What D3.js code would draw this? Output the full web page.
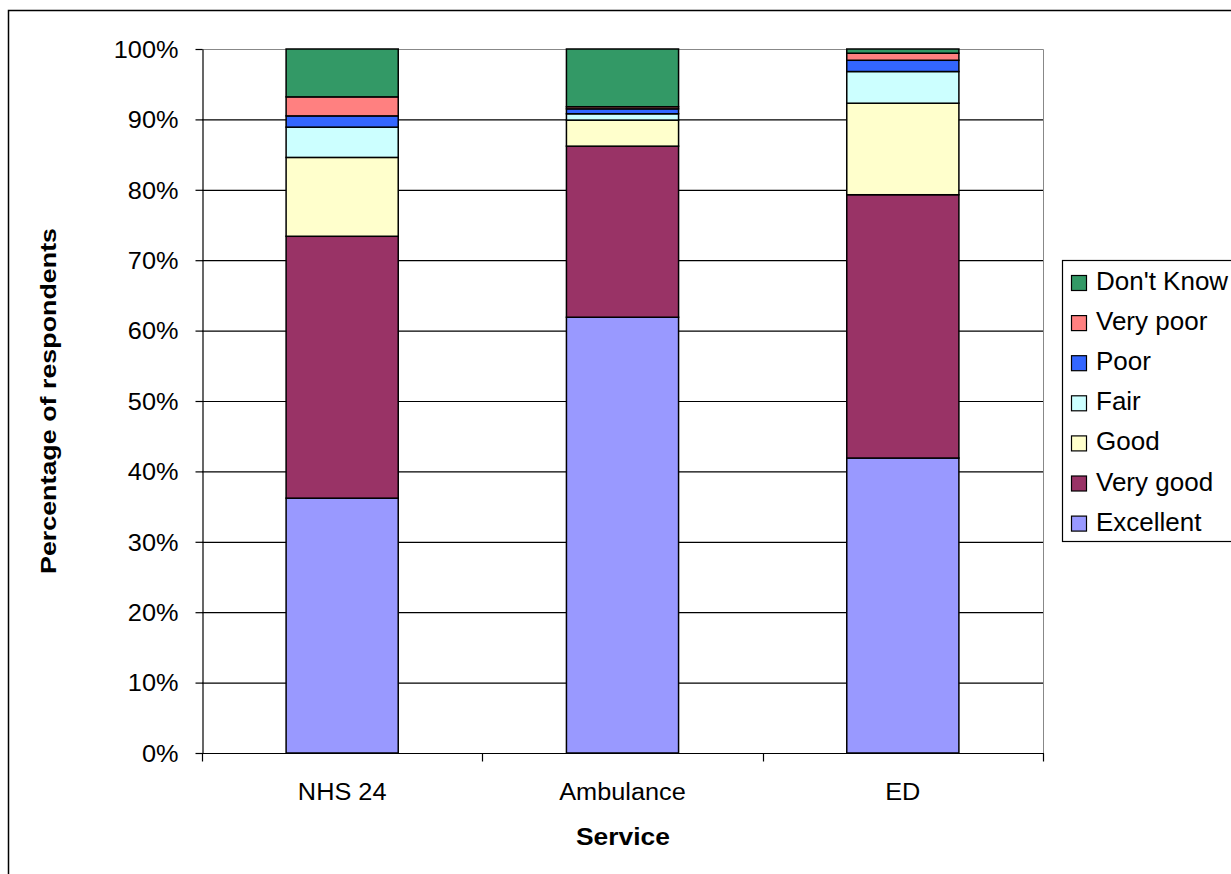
<!DOCTYPE html>
<html>
<head>
<meta charset="utf-8">
<script src="https://cdn.jsdelivr.net/npm/d3@7"></script>
<style>
  html, body { margin: 0; padding: 0; background: #fff; }
  svg { display: block; font-family: "Liberation Sans", Arial, sans-serif; }
</style>
</head>
<body>
<svg id="chart" width="1231" height="874"></svg>
<script>
// Services surveyed
const services = ["NHS 24", "Ambulance", "ED"];

// Rating categories, bottom of the stack first
const ratings = ["Excellent", "Very good", "Good", "Fair", "Poor", "Very poor", "Don't Know"];
const ratingColors = ["#9999FF", "#993366", "#FFFFCC", "#CCFFFF", "#3366FF", "#FF8080", "#339966"];

// Percentage of respondents per rating (same order as services)
const excellent = [36.2, 61.9, 41.9];
const veryGood  = [37.2, 24.3, 37.4];
const good      = [11.2, 3.7, 13.0];
const fair      = [4.3, 0.9, 4.5];
const poor      = [1.6, 0.7, 1.6];
const veryPoor  = [2.7, 0.3, 1.0];
const dontKnow  = [6.8, 8.2, 0.6];

const yTicks = [0, 10, 20, 30, 40, 50, 60, 70, 80, 90, 100];

const seriesValues = [excellent, veryGood, good, fair, poor, veryPoor, dontKnow];
const rows = services.map((s, i) => {
  const r = { service: s };
  ratings.forEach((k, j) => { r[k] = seriesValues[j][i]; });
  return r;
});

// Widen text glyphs by a factor along the reading direction
function widen(sel, factor) {
  sel.each(function () {
    const w = this.getComputedTextLength();
    d3.select(this)
      .attr("textLength", w * factor)
      .attr("lengthAdjust", "spacingAndGlyphs");
  });
}

const svg = d3.select("#chart");

// Outer chart frame
svg.append("rect")
  .attr("x", 8.5).attr("y", 10.5)
  .attr("width", 1240).attr("height", 880)
  .attr("fill", "#fff").attr("stroke", "#000").attr("stroke-width", 1.5);

const plot = { left: 202, right: 1043, top: 49, bottom: 753 };

const x = d3.scaleBand()
  .domain(services)
  .range([plot.left, plot.right])
  .paddingInner(0.6).paddingOuter(0.3);

const y = d3.scaleLinear().domain([0, 100]).range([plot.bottom, plot.top]);

// Horizontal gridlines
svg.append("g")
  .selectAll("line")
  .data(yTicks.filter(t => t > 0))
  .join("line")
  .attr("x1", plot.left).attr("x2", plot.right)
  .attr("y1", d => y(d) + 0.5).attr("y2", d => y(d) + 0.5)
  .attr("stroke", "#000").attr("stroke-width", 1.2);

// Plot area right/top edges (light grey)
svg.append("path")
  .attr("d", `M${plot.left},${plot.top}.5H${plot.right}.5V${plot.bottom}`)
  .attr("fill", "none").attr("stroke", "#888").attr("stroke-width", 1);

// Stacked bars
const stack = d3.stack().keys(ratings);
const layers = stack(rows);

svg.append("g")
  .selectAll("g")
  .data(layers)
  .join("g")
  .attr("fill", (d, i) => ratingColors[i])
  .selectAll("rect")
  .data(d => d)
  .join("rect")
  .attr("x", d => x(d.data.service))
  .attr("width", x.bandwidth())
  .attr("y", d => y(d[1]))
  .attr("height", d => y(d[0]) - y(d[1]))
  .attr("stroke", "#000")
  .attr("stroke-width", 1.5);

// Y axis
const yAxis = svg.append("g")
  .attr("transform", `translate(${plot.left + 0.5},0)`)
  .call(d3.axisLeft(y).tickValues(yTicks).tickFormat(d => d + "%").tickSize(7).tickSizeOuter(0));
yAxis.attr("font-size", null).attr("font-family", null);
yAxis.select(".domain").attr("stroke", "#000").attr("stroke-width", 1.2);
yAxis.selectAll(".tick line").attr("stroke", "#000").attr("stroke-width", 1.2);
yAxis.selectAll(".tick text")
  .attr("x", -24)
  .attr("dy", "0.36em")
  .style("font-size", "23px")
  .attr("fill", "#000")
  .call(widen, 1.1);

// X axis: tick marks at category boundaries
const xAxisG = svg.append("g").attr("transform", `translate(0,${plot.bottom + 0.5})`);
xAxisG.append("line")
  .attr("x1", plot.left).attr("x2", plot.right + 1)
  .attr("stroke", "#000").attr("stroke-width", 1.2);
const boundaries = d3.range(services.length + 1).map(i => plot.left + (plot.right - plot.left) * i / services.length);
xAxisG.selectAll("line.tk")
  .data(boundaries)
  .join("line")
  .attr("class", "tk")
  .attr("x1", d => Math.round(d) + 0.5).attr("x2", d => Math.round(d) + 0.5)
  .attr("y1", 0).attr("y2", 8)
  .attr("stroke", "#000").attr("stroke-width", 1.2);
xAxisG.selectAll("text")
  .data(services)
  .join("text")
  .attr("x", d => x(d) + x.bandwidth() / 2)
  .attr("y", 46)
  .attr("text-anchor", "middle")
  .style("font-size", "23px")
  .attr("fill", "#000")
  .text(d => d)
  .call(widen, 1.1);

// Axis titles
svg.append("text")
  .attr("x", 623).attr("y", 845)
  .attr("text-anchor", "middle")
  .style("font-size", "24px").attr("font-weight", "bold")
  .text("Service")
  .call(widen, 1.1);

svg.append("text")
  .attr("transform", "translate(56,401) rotate(-90)")
  .attr("text-anchor", "middle")
  .style("font-size", "22px").attr("font-weight", "bold")
  .text("Percentage of respondents")
  .call(widen, 1.22);

// Legend, top entry is the top of the stack
const legend = svg.append("g");
legend.append("rect")
  .attr("x", 1062.5).attr("y", 260.5)
  .attr("width", 200).attr("height", 281)
  .attr("fill", "#fff").attr("stroke", "#000").attr("stroke-width", 1.2);

const legendItems = ratings.map((r, i) => ({ name: r, color: ratingColors[i] })).reverse();
const li = legend.selectAll("g.item")
  .data(legendItems)
  .join("g")
  .attr("class", "item")
  .attr("transform", (d, i) => `translate(1071,${282 + i * 40.1})`);
li.append("rect")
  .attr("x", 0.5).attr("y", -6.5)
  .attr("width", 15).attr("height", 15)
  .attr("fill", d => d.color)
  .attr("stroke", "#000").attr("stroke-width", 1.2);
li.append("text")
  .attr("x", 25).attr("y", 8)
  .style("font-size", "25px")
  .attr("fill", "#000")
  .text(d => d.name)
  .call(widen, 1.04);
</script>
</body>
</html>
